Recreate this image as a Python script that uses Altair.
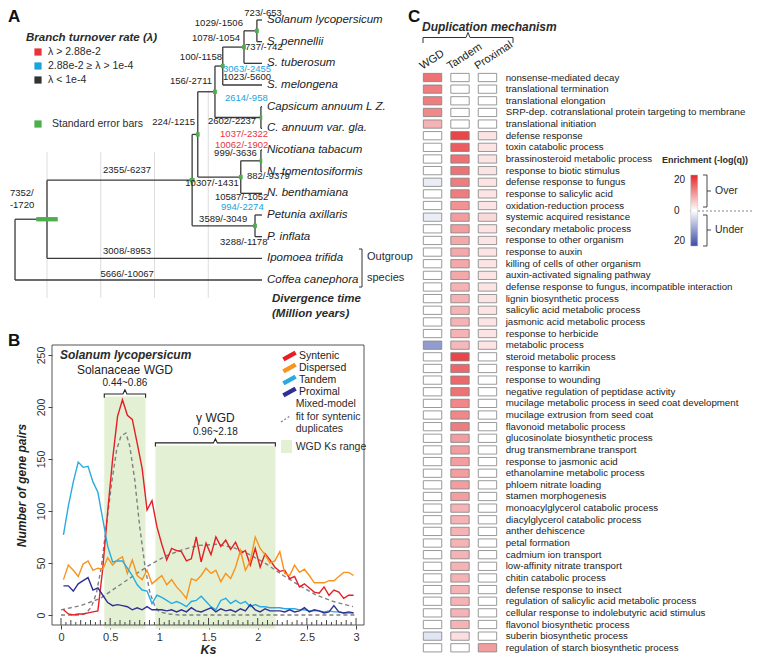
import altair as alt
import pandas as pd
import numpy as np

FONT = "Liberation Sans"
W, H = 744, 650
INK = "#2b2b2b"

# ---------------- Panel A : phylogeny ----------------
species = ["Solanum lycopersicum", "S. pennellii", "S. tuberosum", "S. melongena",
           "Capsicum annuum L Z.", "C. annuum var. gla.", "Nicotiana tabacum",
           "N. tomentosiformis", "N. benthamiana", "Petunia axillaris", "P. inflata",
           "Ipomoea trifida", "Coffea canephora"]
node_names = ["SL", "ST", "SM", "CA", "SC", "NT", "NI", "AA", "PE", "BB", "OU", "RT"]
node_kids = [("s0", "s1"), ("SL", "s2"), ("ST", "s3"), ("s4", "s5"), ("SM", "CA"),
             ("s6", "s7"), ("NT", "s8"), ("SC", "NI"), ("s9", "s10"), ("AA", "PE"),
             ("BB", "s11"), ("OU", "s12")]
node_age = [1.9, 6.7, 14.6, 0.4, 17.5, 0.4, 7.9, 23.9, 2.6, 26.0, 80.0, 91.9]
node_err = [0.7, 0.7, 0.7, 0.5, 0.7, 0.5, 0.7, 0.7, 0.7, 0.9, 4.0, 0.0]

branch_text = ["723/-653", "1029/-1506", "1078/-1054", "737/-742", "100/-1158",
               "3063/-2455", "1023/-5600", "156/-2711", "2614/-958", "224/-1215",
               "2602/-2237", "1037/-2322", "10062/-1902", "999/-3636", "10307/-1431",
               "882/-9379", "10587/-1052", "994/-2274", "3589/-3049", "3288/-1178",
               "2355/-6237", "3008/-8953", "5666/-10067", "7352/", "-1720"]
branch_age = [-0.4, 7.1, 8.2, 6.3, 14.9, 14.5, 14.5, 18.6, 13.8, 24.9, 20.1, 15.6, 17.5,
              1.9, 18.6, 5.6, 17.5, 15.3, 23.4, 15.6, 50.2, 50.2, 50.2, 93.8, 93.8]
branch_row = [-0.33, 0.14, 0.83, 1.25, 1.71, 2.26, 2.63, 2.82, 3.6, 4.71, 4.66, 5.26, 5.77,
              6.14, 7.52, 7.2, 8.17, 8.63, 9.18, 10.25, 6.92, 10.66, 11.72, 7.98, 8.54]
branch_align = ["center", "right", "right", "left", "right", "left", "left", "right", "left",
                "right", "left", "left", "left", "right", "center", "left", "left", "left",
                "left", "left", "center", "center", "center", "left", "left"]
branch_rate = ["k", "k", "k", "k", "k", "c", "k", "k", "c", "k", "k", "r", "r", "k", "k",
               "k", "k", "c", "k", "k", "k", "k", "k", "k", "k"]
rate_colors = {"r": "#e8333a", "c": "#1aa3dc", "k": "#222222"}

time_ticks = [80, 60, 40, 20, 0]
grid_age = [80, 60, 40, 20]
grid_top_row = [6.1, 6.1, 6.1, 3.25]

# ---------------- Panel B : Ks distribution ----------------
ks = [0.025, 0.075, 0.125, 0.175, 0.225, 0.275, 0.325, 0.375, 0.425, 0.475,
      0.525, 0.575, 0.625, 0.675, 0.725, 0.775, 0.825, 0.875, 0.925, 0.975,
      1.025, 1.075, 1.125, 1.175, 1.225, 1.275, 1.325, 1.375, 1.425, 1.475,
      1.525, 1.575, 1.625, 1.675, 1.725, 1.775, 1.825, 1.875, 1.925, 1.975,
      2.025, 2.075, 2.125, 2.175, 2.225, 2.275, 2.325, 2.375, 2.425, 2.475,
      2.525, 2.575, 2.625, 2.675, 2.725, 2.775, 2.825, 2.875, 2.925, 2.975]
syntenic = [5, 1, 0, 1, 1, 2, 3, 4, 45, 100, 150, 191, 207, 192, 188, 165, 141, 101, 110, 85,
            68, 53, 64, 62, 61, 52, 54, 75, 51, 69, 58, 75, 66, 72, 63, 70, 59, 62, 48, 64,
            46, 59, 53, 46, 42, 43, 35, 37, 27, 30, 26, 22, 21, 27, 19, 24, 22, 16, 19, 19]
dispersed = [34, 48, 43, 37, 49, 52, 43, 45, 44, 55, 48, 53, 56, 40, 53, 38, 34, 43, 30, 34,
             38, 29, 34, 27, 22, 16, 35, 33, 38, 45, 40, 43, 32, 40, 35, 46, 62, 43, 52, 75,
             64, 58, 50, 52, 61, 40, 38, 48, 41, 44, 38, 31, 31, 31, 33, 33, 37, 41, 41, 38]
tandem = [77, 105, 128, 147, 142, 143, 128, 118, 92, 66, 51, 52, 52, 45, 38, 29, 24, 23, 11, 19,
          17, 14, 11, 13, 11, 8, 13, 14, 18, 13, 8, 5, 14, 16, 11, 14, 11, 13, 8, 10,
          8, 8, 7, 7, 7, 6, 6, 6, 5, 5, 4, 4, 4, 3, 4, 3, 3, 2, 2, 2]
proximal = [28, 28, 23, 30, 33, 36, 24, 26, 19, 12, 9, 10, 9, 8, 5, 7, 5, 8, 5, 5,
            5, 4, 5, 3, 5, 3, 7, 4, 3, 5, 7, 3, 6, 4, 5, 3, 6, 4, 10, 5,
            3, 6, 4, 4, 4, 3, 5, 3, 4, 7, 3, 5, 4, 2, 3, 9, 3, 2, 3, 2]
series_names = ["Syntenic", "Dispersed", "Tandem", "Proximal"]
series_colors = ["#e41f26", "#f7941d", "#29abe2", "#2e3192"]

fit1_ks = [0.0, 0.2, 0.26, 0.31, 0.36, 0.41, 0.46, 0.515, 0.566, 0.61, 0.66, 0.70, 0.75,
           0.80, 0.855, 0.905, 0.956, 1.0, 1.1, 1.2, 3.0]
fit1_n = [0, 0, 2, 8, 21, 46, 85, 127, 159, 172, 175, 162, 130, 85, 46, 21, 8, 3, 1, 0, 0]
fit2_ks = [0.0, 0.2, 0.4, 0.57, 0.74, 0.9, 1.07, 1.24, 1.41, 1.58, 1.75, 1.92, 2.09, 2.26,
           2.43, 2.6, 2.77, 2.97]
fit2_n = [5, 9, 16, 27, 38, 48, 57, 63, 67, 68, 65, 58, 49, 38, 28, 19, 13, 8]

wgd_names = ["Solanaceae WGD", "γ WGD"]
wgd_ranges = ["0.44~0.86", "0.96~2.18"]
wgd_lo = [0.44, 0.96]
wgd_hi = [0.86, 2.18]
wgd_top = [210, 163]
ks_ticks = [0, 0.5, 1, 1.5, 2, 2.5, 3]
count_ticks = [0, 50, 100, 150, 200, 250]

# ---------------- Panel C : GO enrichment ----------------
terms = ["nonsense-mediated decay", "translational termination", "translational elongation",
         "SRP-dep. cotranslational protein targeting to membrane", "translational initiation",
         "defense response", "toxin catabolic process", "brassinosteroid metabolic process",
         "response to biotic stimulus", "defense response to fungus",
         "response to salicylic acid", "oxidation-reduction process",
         "systemic acquired resistance", "secondary metabolic process",
         "response to other organism", "response to auxin",
         "killing of cells of other organism", "auxin-activated signaling pathway",
         "defense response to fungus, incompatible interaction", "lignin biosynthetic process",
         "salicylic acid metabolic process", "jasmonic acid metabolic process",
         "response to herbicide", "metabolic process", "steroid metabolic process",
         "response to karrikin", "response to wounding",
         "negative regulation of peptidase activity",
         "mucilage metabolic process in seed coat development",
         "mucilage extrusion from seed coat", "flavonoid metabolic process",
         "glucosinolate biosynthetic process", "drug transmembrane transport",
         "response to jasmonic acid", "ethanolamine metabolic process",
         "phloem nitrate loading", "stamen morphogenesis",
         "monoacylglycerol catabolic process", "diacylglycerol catabolic process",
         "anther dehiscence", "petal formation", "cadmium ion transport",
         "low-affinity nitrate transport", "chitin catabolic process",
         "defense response to insect", "regulation of salicylic acid metabolic process",
         "cellular response to indolebutyric acid stimulus", "flavonol biosynthetic process",
         "suberin biosynthetic process", "regulation of starch biosynthetic process"]
mechanisms = ["WGD", "Tandem", "Proximal"]
wgd_q = [13, 12, 12, 11, 7, 0, 0, 0, 0, -2, 0, 0, -2, 0, 0, 0, 0, 0, 0, 0,
         0, 0, 0, -11, 0, 0, 0, 0, 0, 0, 0, 0, 0, 0, 0, 0, 0, 0, 0, 0,
         0, 0, 0, 0, 0, 0, 0, 0, -3, 0]
tandem_q = [0, 0, 0, 0, 0, 17, 15, 13, 13, 12, 12, 10, 9, 9, 8, 8, 8, 8, 7, 7,
            7, 7, 7, 6.5, 17, 14, 14, 13, 11, 11, 12, 9, 9, 9, 9, 9, 9, 7, 7, 7,
            7, 7, 7, 7, 7, 7, 7, 7, 3, 0]
proximal_q = [0, 0, 0, 0, 0, 2.5, 2.5, 2.5, 2.5, 2.5, 2.5, 2.5, 3.5, 2.5, 2.5, 2.5, 2.5, 2.5, 2.5, 2.5,
              2.5, 2.5, 2.5, 2.5, 0, 0, 0, 0, 0, 0, 0, 0, 0, 0, 0, 0, 0, 0, 0, 0,
              0, 0, 0, 0, 0, 0, 0, 0, 0, 9]

# =====================================================================
# helpers
def txt(x, y, s, **kw):
    base = dict(font=FONT, align="left", baseline="middle", fontSize=11, color=INK)
    base.update(kw)
    return alt.Chart(pd.DataFrame({"t": [s]})).mark_text(**base).encode(
        x=alt.value(x), y=alt.value(y), text="t:N")


def poly(points, **kw):
    df = pd.DataFrame({"px": [p[0] for p in points], "py": [p[1] for p in points],
                       "o": list(range(len(points)))})
    base = dict(color="#333", strokeWidth=1)
    base.update(kw)
    return alt.Chart(df).mark_line(**base).encode(
        x=alt.X("px:Q", scale=None, axis=None), y=alt.Y("py:Q", scale=None, axis=None),
        order="o:Q")


# =====================================================================
# Panel A
PX_PER_MY = 2.6875
tx = alt.Scale(domain=[0, 92], range=[254, 254 - 92 * PX_PER_MY], nice=False, zero=False)
ty = alt.Scale(domain=[0, 12], range=[12, 272], nice=False, zero=False)

pos = {f"s{i}": (0.0, float(i)) for i in range(len(species))}
for nm, kids, age in zip(node_names, node_kids, node_age):
    pos[nm] = (age, float(np.mean([pos[k][1] for k in kids])))

edges = []
for nm, kids in zip(node_names, node_kids):
    a, r = pos[nm]
    rs = [pos[k][1] for k in kids]
    edges.append(dict(x1=a, x2=a, y1=min(rs), y2=max(rs)))
    for k in kids:
        edges.append(dict(x1=a, x2=pos[k][0], y1=pos[k][1], y2=pos[k][1]))
edges = pd.DataFrame(edges)

errs = pd.DataFrame([dict(lo=pos[n][0] - e, hi=pos[n][0] + e,
                          r1=pos[n][1] - 0.1, r2=pos[n][1] + 0.1)
                     for n, e in zip(node_names, node_err) if e > 0])

axisA = alt.Axis(values=time_ticks, orient="bottom", offset=-(H - 295), title=None,
                 grid=False, labelFontSize=10, labelColor="#333", tickColor="#555",
                 domainColor="#555", tickSize=4, labelPadding=2, labelFlush=False,
                 labelOverlap=False)

gridA = alt.Chart(pd.DataFrame({"t": grid_age, "r1": grid_top_row,
                                "r2": [12.83] * len(grid_age)})).mark_rule(
    color="#d4d4d4", strokeWidth=0.8).encode(
    x=alt.X("t:Q", scale=tx, axis=axisA), y=alt.Y("r1:Q", scale=ty, axis=None), y2="r2:Q")

treeA = alt.Chart(edges).mark_rule(color="#3a3a3a", strokeWidth=1.3).encode(
    x=alt.X("x1:Q", scale=tx, axis=None), x2="x2:Q",
    y=alt.Y("y1:Q", scale=ty, axis=None), y2="y2:Q")

errA = alt.Chart(errs).mark_rect(color="#4daf4a").encode(
    x=alt.X("lo:Q", scale=tx, axis=None), x2="hi:Q",
    y=alt.Y("r1:Q", scale=ty, axis=None), y2="r2:Q")

spA = alt.Chart(pd.DataFrame({"name": species, "t": [0.0] * len(species),
                              "r": list(range(len(species)))})).mark_text(
    font=FONT, fontSize=11.5, fontStyle="italic", align="left", dx=5, color="#222").encode(
    x=alt.X("t:Q", scale=tx, axis=None), y=alt.Y("r:Q", scale=ty, axis=None), text="name:N")

bl = pd.DataFrame({"t": branch_text, "a": branch_age, "r": branch_row,
                   "al": branch_align, "c": [rate_colors[k] for k in branch_rate]})
blA = [alt.Chart(bl[bl.al == al]).mark_text(font=FONT, fontSize=9.5, align=al).encode(
    x=alt.X("a:Q", scale=tx, axis=None), y=alt.Y("r:Q", scale=ty, axis=None),
    text="t:N", color=alt.Color("c:N", scale=None)) for al in ["left", "right", "center"]]

panelA = alt.layer(gridA, treeA, errA, spA, *blA)

# =====================================================================
# Panel B
kx = alt.Scale(domain=[-0.0915, 3.081], range=[44, 356], nice=False, zero=False)
ky = alt.Scale(domain=[-9.6, 259.6], range=[617, 337], nice=False, zero=False)

axisBx = alt.Axis(values=ks_ticks, format="~g", orient="bottom", offset=-(H - 617), title="Ks",
                  titleFontStyle="italic", titleFontWeight="bold", titleFontSize=12.5,
                  titleColor="#222", titlePadding=1, domain=False, tickSize=4, tickColor="#444",
                  labelFontSize=11, labelColor="#333", labelPadding=2, labelFlush=False,
                  labelOverlap=False, grid=False)
axisBy = alt.Axis(values=count_ticks, orient="left", offset=-44, title="Number of gene pairs",
                  titleFontStyle="italic", titleFontWeight="bold", titleFontSize=12,
                  titleColor="#222", titlePadding=8, domain=False, tickSize=4, tickColor="#444",
                  labelFontSize=10.5, labelColor="#333", labelAngle=270, labelAlign="center",
                  labelBaseline="bottom", labelPadding=2, labelFlush=False, labelOverlap=False,
                  grid=False)

# a separate unit that carries panel B's axes
axesB = alt.Chart(pd.DataFrame({"k": ks_ticks, "n": count_ticks + [0]})).mark_point(
    opacity=0, size=1).encode(
    x=alt.X("k:Q", scale=kx, axis=axisBx), y=alt.Y("n:Q", scale=ky, axis=axisBy))

wgd_df = pd.DataFrame({"lo": wgd_lo, "hi": wgd_hi, "top": wgd_top, "bot": [-13, -13]})
shadeB = alt.Chart(wgd_df).mark_rect(color="#e3f0d4").encode(
    x=alt.X("lo:Q", scale=kx, axis=None), x2="hi:Q",
    y=alt.Y("bot:Q", scale=ky, axis=None), y2="top:Q")

tick_pos = np.round(np.arange(0, 3.0001, 0.05), 2)
tick_len = [7 if abs(v * 2 - round(v * 2)) < 1e-6 else (5 if abs(v * 10 - round(v * 10)) < 1e-6 else 3)
            for v in tick_pos]
ticks_df = pd.DataFrame({"k": tick_pos, "y0": -9.6, "y1": [-9.6 + L / 1.04 for L in tick_len]})
ticksB = alt.Chart(ticks_df).mark_rule(color="#444", strokeWidth=1).encode(
    x=alt.X("k:Q", scale=kx, axis=None), y=alt.Y("y0:Q", scale=ky, axis=None), y2="y1:Q")

fit_df = pd.concat([pd.DataFrame({"k": fit1_ks, "n": fit1_n, "f": "a"}),
                    pd.DataFrame({"k": fit2_ks, "n": fit2_n, "f": "b"})])
fitB = alt.Chart(fit_df).mark_line(color="#808080", strokeDash=[4, 3], strokeWidth=1.4).encode(
    x=alt.X("k:Q", scale=kx, axis=None), y=alt.Y("n:Q", scale=ky, axis=None), detail="f:N")

long = pd.concat([pd.DataFrame({"k": ks, "n": vals, "s": nm, "z": i})
                  for i, (nm, vals) in enumerate(zip(series_names, [syntenic, dispersed, tandem, proximal]))])
linesB = alt.Chart(long).mark_line(strokeWidth=1.4).encode(
    x=alt.X("k:Q", scale=kx, axis=None), y=alt.Y("n:Q", scale=ky, axis=None),
    stroke=alt.Stroke("s:N", scale=alt.Scale(domain=series_names, range=series_colors),
                      legend=alt.Legend(orient="none", legendX=273, legendY=342, title=None,
                                        symbolType="M-1,0.55L1,-0.55", symbolSize=150,
                                        symbolStrokeWidth=4.5, labelFontSize=10.5,
                                        labelFont=FONT, labelColor="#222", rowPadding=0,
                                        clipHeight=12, padding=0, labelOffset=1)),
    order=alt.Order("z:Q", sort="descending"))

br = []
for i, (lo, hi, top) in enumerate(zip(wgd_lo, wgd_hi, wgd_top)):
    c = (lo + hi) / 2
    for j, (kk, nn) in enumerate([(lo, top - 1), (lo, top + 2.5), (c - 0.02, top + 2.5),
                                  (c, top + 6.5), (c + 0.02, top + 2.5), (hi, top + 2.5),
                                  (hi, top - 1)]):
        br.append(dict(b=i, o=j, k=kk, n=nn))
bracketB = alt.Chart(pd.DataFrame(br)).mark_line(color="#222", strokeWidth=1.1).encode(
    x=alt.X("k:Q", scale=kx, axis=None), y=alt.Y("n:Q", scale=ky, axis=None),
    detail="b:N", order="o:Q")

lab_df = pd.DataFrame({"k": [(a + b) / 2 for a, b in zip(wgd_lo, wgd_hi)],
                       "n1": [t + 26 for t in wgd_top], "n2": [t + 13 for t in wgd_top],
                       "name": wgd_names, "rng": wgd_ranges})
wgdText1 = alt.Chart(lab_df).mark_text(font=FONT, fontSize=12, color="#222").encode(
    x=alt.X("k:Q", scale=kx, axis=None), y=alt.Y("n1:Q", scale=ky, axis=None), text="name:N")
wgdText2 = alt.Chart(lab_df).mark_text(font=FONT, fontSize=10, color="#222").encode(
    x=alt.X("k:Q", scale=kx, axis=None), y=alt.Y("n2:Q", scale=ky, axis=None), text="rng:N")

frameB = alt.Chart(pd.DataFrame({"a": [0]})).mark_rect(
    fillOpacity=0, stroke="#555", strokeWidth=1).encode(
    x=alt.value(44), x2=alt.value(356), y=alt.value(337), y2=alt.value(617))

panelB = alt.layer(shadeB, ticksB, fitB, linesB, bracketB, wgdText1, wgdText2)

# =====================================================================
# Panel C
cx = alt.Scale(domain=mechanisms, range=[410.8, 493.2], paddingInner=0.33, paddingOuter=0.165)
cy = alt.Scale(domain=terms, range=[63.7, 645.6], paddingInner=0.29, paddingOuter=0.145)
heat = pd.concat([pd.DataFrame({"term": terms, "mech": m, "v": v})
                  for m, v in zip(mechanisms, [wgd_q, tandem_q, proximal_q])])
heatC = alt.Chart(heat).mark_rect(stroke="#808080", strokeWidth=0.8).encode(
    x=alt.X("mech:N", scale=cx, sort=mechanisms,
            axis=alt.Axis(orient="top", offset=-64, title=None, domain=False, ticks=False,
                          labelAngle=-33, labelAlign="left", labelBaseline="bottom",
                          labelOffset=-9, labelPadding=1, labelFontSize=11,
                          labelColor="#222")),
    y=alt.Y("term:N", scale=cy, sort=terms,
            axis=alt.Axis(orient="right", offset=-(W - 493.2), title=None, domain=False,
                          ticks=False, labelPadding=4, labelFontSize=9.7, labelLimit=400,
                          labelColor="#222")),
    fill=alt.Fill("v:Q", scale=alt.Scale(type="linear", domain=[-20, 0, 20],
                                         range=["#3a4ba6", "#ffffff", "#e3262b"],
                                         interpolate="rgb", zero=False, nice=False,
                                         clamp=True),
                  legend=alt.Legend(orient="none", legendX=682.7, legendY=167, title=None,
                                    direction="vertical", gradientLength=71,
                                    gradientThickness=7, values=[-20, 0, 20],
                                    labelExpr="format(abs(datum.value), 'd')",
                                    labelOffset={"expr": "-23.7"}, labelFontSize=10,
                                    labelFont=FONT, labelColor="#222",
                                    gradientStrokeColor="#bbb",
                                    gradientStrokeWidth=0.5, padding=0)))

panelC = alt.layer(heatC)

# =====================================================================
# Decorations (titles, legends, brackets)
deco = [
    txt(0, 1, "A", fontSize=17, fontWeight="bold", baseline="top", color="#111"),
    txt(18, 30, "Branch turnover rate (λ)", fontSize=11.5, fontWeight="bold", fontStyle="italic"),
    txt(40, 44, "λ > 2.88e-2", fontSize=10.5),
    txt(40, 58, "2.88e-2 ≥ λ > 1e-4", fontSize=10.5),
    txt(40, 72, "λ  < 1e-4", fontSize=10.5),
    txt(44, 116, "Standard error bars", fontSize=10.5),
    txt(264, 291, "Divergence time", fontSize=11.5, fontWeight="bold", fontStyle="italic"),
    txt(264, 306, "(Million years)", fontSize=11.5, fontWeight="bold", fontStyle="italic"),
    txt(359, 249, "Outgroup", fontSize=11),
    txt(359, 270, "species", fontSize=11),
    txt(0, 325, "B", fontSize=17, fontWeight="bold", baseline="top", color="#111"),
    txt(52, 347, "Solanum lycopersicum", fontSize=12, fontWeight="bold", fontStyle="italic"),
    txt(287.7, 396, "Mixed-model", fontSize=10.5),
    txt(287.7, 408.5, "fit for syntenic", fontSize=10.5),
    txt(287.7, 421, "duplicates", fontSize=10.5),
    txt(287.7, 439, "WGD Ks range", fontSize=10.5),
    txt(400, 1, "C", fontSize=17, fontWeight="bold", baseline="top", color="#111"),
    txt(414, 19, "Duplication mechanism", fontSize=12, fontWeight="bold", fontStyle="italic"),
    txt(654, 152, "Enrichment (-log(q))", fontSize=9, fontWeight="bold"),
    txt(707, 183, "Over", fontSize=10.5),
    txt(707, 222, "Under", fontSize=10.5),
    poly([(351, 241), (354, 241), (354, 279), (351, 279)], strokeWidth=1),
    poly([(273, 414), (282, 408)], strokeDash=[2, 2], color="#808080", strokeWidth=1.3),
    poly([(415, 35), (415, 29.5), (458, 29.5), (460, 24.5), (462, 29.5), (505, 29.5), (505, 35)],
         strokeWidth=1),
    poly([(695, 167), (699, 167), (699, 199), (695, 199)], strokeWidth=0.9),
    poly([(699, 183), (703, 183)], strokeWidth=0.9),
    poly([(695, 207), (699, 207), (699, 238), (695, 238)], strokeWidth=0.9),
    poly([(699, 222), (703, 222)], strokeWidth=0.9),
    poly([(682, 203), (744, 203)], strokeDash=[2, 2], color="#777", strokeWidth=0.9),
]
legsq = pd.DataFrame({"c": ["#e8333a", "#1aa3dc", "#333333", "#4daf4a"]})
sq = [alt.Chart(pd.DataFrame({"a": [0]})).mark_square(size=52, color=c, opacity=1).encode(
    x=alt.value(30), y=alt.value(y)) for c, y in zip(legsq.c, [44, 58, 72, 116])]
greenbox = alt.Chart(pd.DataFrame({"a": [0]})).mark_rect(color="#e3f0d4").encode(
    x=alt.value(273), x2=alt.value(284), y=alt.value(432), y2=alt.value(445))

chart = alt.layer(panelA, panelB, axesB, panelC, frameB, *deco, *sq, greenbox).resolve_scale(
    x="independent", y="independent"
).properties(width=W, height=H, padding=0, autosize="none").configure_view(
    stroke=None).configure_axis(labelFont=FONT, titleFont=FONT).configure_text(font=FONT)

chart.save("out.html", embed_options={"renderer": "svg", "actions": False})
